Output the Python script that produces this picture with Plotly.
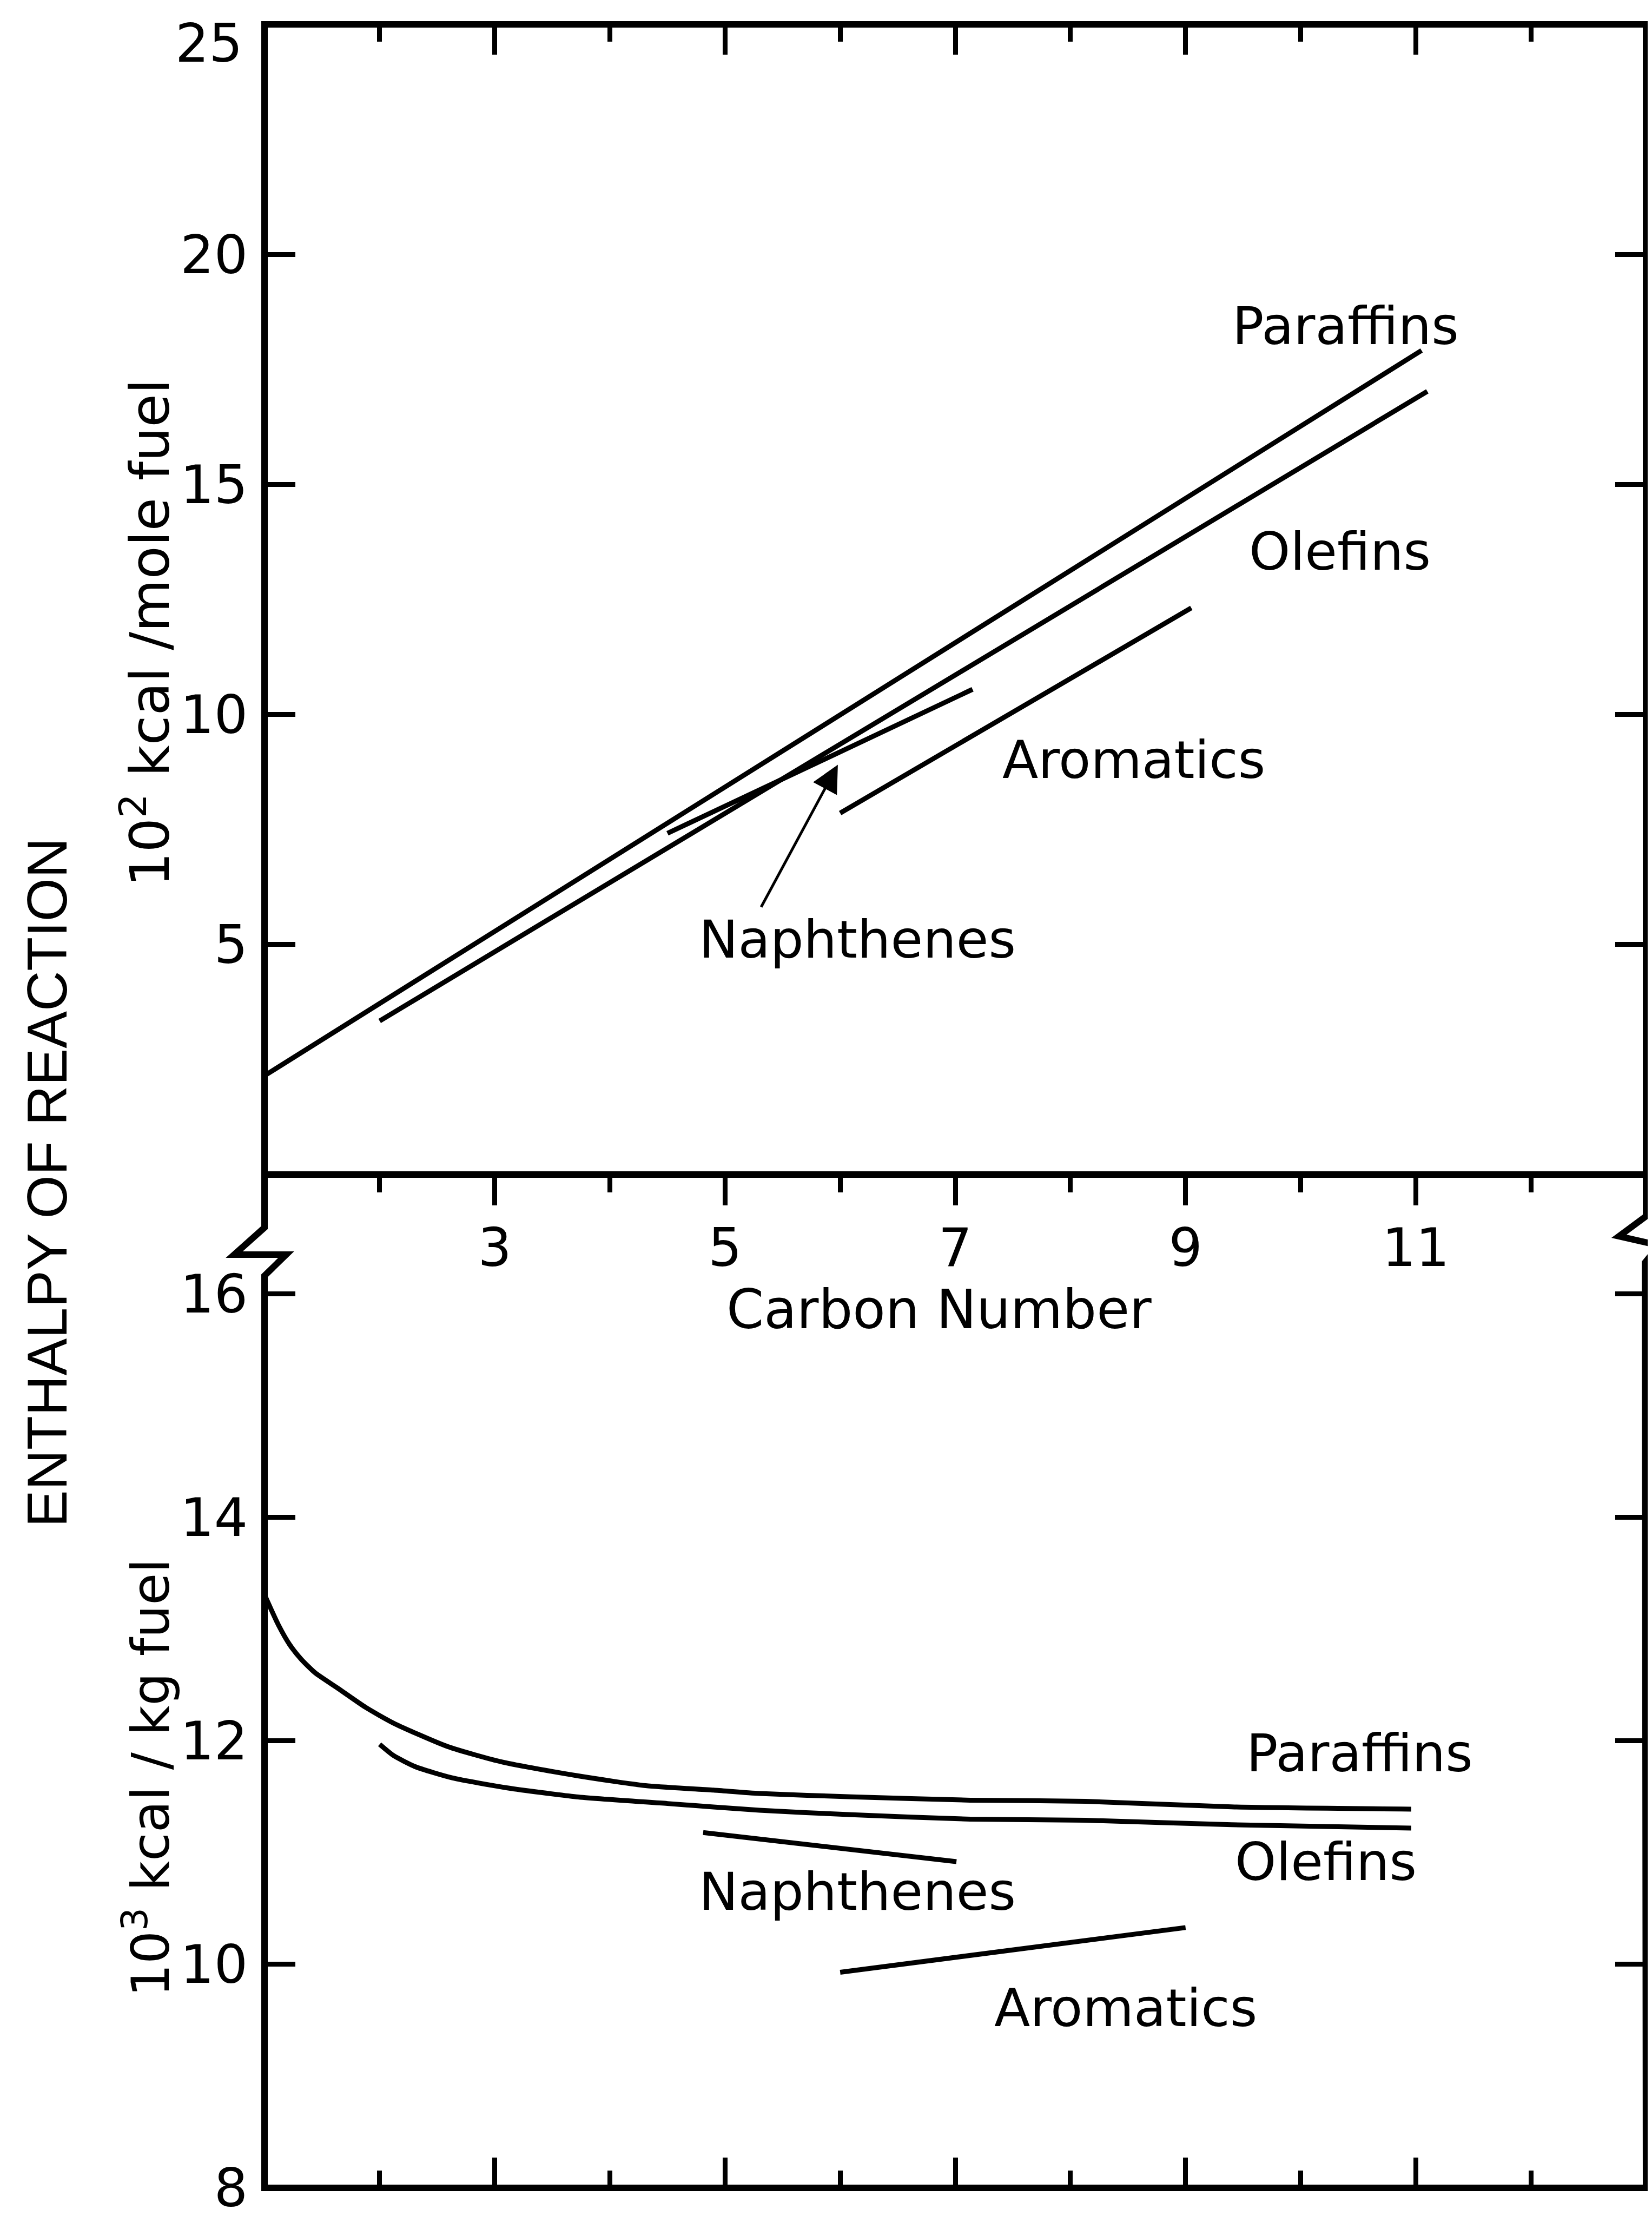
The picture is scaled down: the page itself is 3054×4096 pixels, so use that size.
import plotly.graph_objects as go

# ---------------- data ----------------
carbon_major = [3, 5, 7, 9, 11]
carbon_minor = [2, 4, 6, 8, 10, 12]
mole_ticks = [5, 10, 15, 20, 25]
mole_ticktext = ["5", "10", "15", "20", ""]   # "25" drawn separately, just below the corner
mole_top_label = "25"
kg_ticks = [8, 10, 12, 14, 16]

# upper panel: 10^2 kcal / mole fuel
mole_paraffins_x = [1.0, 11.05]
mole_paraffins_y = [2.15, 17.92]
mole_olefins_x = [2.0, 11.1]
mole_olefins_y = [3.34, 17.03]
mole_naphthenes_x = [4.5, 7.15]
mole_naphthenes_y = [7.42, 10.55]
mole_aromatics_x = [6.0, 9.05]
mole_aromatics_y = [7.86, 12.32]
naphthene_arrow_tail = [5.31, 5.80]
naphthene_arrow_tip = [5.98, 8.91]

# lower panel: 10^3 kcal / kg fuel
kg_paraffins_x = [1.0, 1.12, 1.22, 1.32, 1.44, 1.64, 1.88, 2.12, 2.59, 3.07,
                  3.71, 4.31, 4.90, 5.30, 6.10, 7.13, 8.13, 9.40, 10.96]
kg_paraffins_y = [13.31, 13.04, 12.86, 12.73, 12.61, 12.47, 12.30, 12.16, 11.95, 11.81,
                  11.69, 11.60, 11.56, 11.53, 11.50, 11.47, 11.46, 11.41, 11.39]
kg_olefins_x = [2.00, 2.12, 2.31, 2.63, 3.11, 3.71, 4.50, 5.30, 6.10, 7.13, 8.13, 9.40, 10.96]
kg_olefins_y = [11.97, 11.87, 11.77, 11.67, 11.58, 11.50, 11.44, 11.38, 11.34, 11.30, 11.29, 11.25, 11.22]
kg_naphthenes_x = [4.81, 7.01]
kg_naphthenes_y = [11.18, 10.92]
kg_aromatics_x = [6.0, 9.0]
kg_aromatics_y = [9.93, 10.33]

# ---------------- layout geometry (output pixels) ----------------
W_PX, H_PX = 3054, 4096
L, R, T, B = 481, 3035, 37, 4036
DIV = 2163
PW, PH = R - L, B - T
split = (B - DIV) / PH


def px(xp, yp):
    return (xp - L) / PW, (B - yp) / PH


def path_from(points):
    s = ""
    for i, (xp, yp) in enumerate(points):
        xx, yy = px(xp, yp)
        s += ("M" if i == 0 else " L") + f"{xx:.5f},{yy:.5f}"
    return s


LBL = dict(family="DejaVu Sans", size=97, color="black")
TICKF = dict(family="DejaVu Sans", size=98, color="black")
LW = 9
AXW = 12
TW = 9

fig = go.Figure()


def add_line(xs, ys, xa, ya, spline=False):
    fig.add_trace(go.Scatter(
        x=xs, y=ys, mode="lines", xaxis=xa, yaxis=ya, showlegend=False,
        hoverinfo="skip",
        line=dict(color="black", width=LW,
                  shape="spline" if spline else "linear", smoothing=0.6)))


add_line(mole_paraffins_x, mole_paraffins_y, "x", "y")
add_line(mole_olefins_x, mole_olefins_y, "x", "y")
add_line(mole_naphthenes_x, mole_naphthenes_y, "x", "y")
add_line(mole_aromatics_x, mole_aromatics_y, "x", "y")
add_line(kg_paraffins_x, kg_paraffins_y, "x2", "y2", spline=True)
add_line(kg_olefins_x, kg_olefins_y, "x2", "y2", spline=True)
add_line(kg_naphthenes_x, kg_naphthenes_y, "x2", "y2")
add_line(kg_aromatics_x, kg_aromatics_y, "x2", "y2")
# empty trace so the top-edge tick axis is drawn
fig.add_trace(go.Scatter(x=[], y=[], xaxis="x3", yaxis="y", showlegend=False, hoverinfo="skip"))

common_x = dict(range=[1, 13], showgrid=False, zeroline=False, showline=False,
                tickmode="array", tickvals=carbon_major, tickwidth=TW, tickcolor="black",
                fixedrange=True, automargin=False)

fig.update_layout(
    width=W_PX, height=H_PX,
    margin=dict(l=L, r=W_PX - R, t=T, b=H_PX - B, autoexpand=False),
    paper_bgcolor="white", plot_bgcolor="white",
    showlegend=False,
    xaxis=dict(**common_x, anchor="y", domain=[0, 1], side="bottom",
               ticks="outside", ticklen=56, tickfont=TICKF, ticklabelstandoff=-6,
               minor=dict(tickmode="array", tickvals=carbon_minor, ticks="outside",
                          ticklen=32, tickwidth=TW, tickcolor="black", showgrid=False)),
    xaxis3=dict(**common_x, anchor="y", overlaying="x", side="top",
                ticks="inside", ticklen=56, showticklabels=False,
                minor=dict(tickmode="array", tickvals=carbon_minor, ticks="inside",
                           ticklen=32, tickwidth=TW, tickcolor="black", showgrid=False)),
    xaxis2=dict(**common_x, anchor="y2", domain=[0, 1], side="bottom",
                ticks="inside", ticklen=56, showticklabels=False,
                minor=dict(tickmode="array", tickvals=carbon_minor, ticks="inside",
                           ticklen=32, tickwidth=TW, tickcolor="black", showgrid=False)),
    yaxis=dict(anchor="x", domain=[split, 1], range=[0, 25.01], tickmode="array",
               tickvals=mole_ticks, ticktext=mole_ticktext, ticks="inside", ticklen=57,
               tickwidth=TW, tickcolor="black", mirror="ticks", showline=False,
               showgrid=False, zeroline=False, tickfont=TICKF, ticklabelstandoff=30,
               ticklabeloverflow="allow", fixedrange=True, automargin=False),
    yaxis2=dict(anchor="x2", domain=[0, split], range=[8, 17.07], tickmode="array",
                tickvals=kg_ticks, ticks="inside", ticklen=57, tickwidth=TW,
                tickcolor="black", mirror="ticks", showline=False, showgrid=False,
                zeroline=False, tickfont=TICKF, ticklabelstandoff=30,
                ticklabeloverflow="allow", fixedrange=True, automargin=False),
)

# frame with axis breaks
frame_line = dict(color="black", width=AXW)
left_path = path_from([(R, T), (L, T), (L, DIV + 98), (L - 56, DIV + 148), (L + 40, DIV + 148),
                       (L, DIV + 187), (L, B), (R, B)])
right_path = path_from([(R, T - 6), (R, DIV + 77), (R - 50, DIV + 114), (R + 24, DIV + 131),
                        (R - 2, DIV + 163), (R, B + 6)])
shapes = [
    dict(type="path", xref="paper", yref="paper", path=left_path, line=frame_line, layer="above"),
    dict(type="path", xref="paper", yref="paper", path=right_path, line=frame_line, layer="above"),
    dict(type="line", xref="paper", yref="paper", x0=0, x1=1, y0=split, y1=split,
         line=frame_line, layer="above"),
]
fig.update_layout(shapes=shapes)

ann = []


def label(text, x, y, xref, yref, font=LBL, angle=0, xanchor="center"):
    ann.append(dict(text=text, x=x, y=y, xref=xref, yref=yref, showarrow=False,
                    xanchor=xanchor, yanchor="middle", font=font, textangle=angle))


# top-corner tick label, sitting just below the corner as in the reference
label(mole_top_label, px(L - 38, 0)[0], px(0, 72)[1], "paper", "paper",
      font=TICKF, xanchor="right")

# curve labels
label("Paraffins", 10.39, 18.45, "x", "y")
label("Olefins", 10.34, 13.55, "x", "y")
label("Aromatics", 8.55, 9.02, "x", "y")
label("Naphthenes", 6.15, 5.11, "x", "y")
label("Paraffins", 10.51, 11.89, "x2", "y2")
label("Olefins", 10.22, 10.92, "x2", "y2")
label("Aromatics", 8.48, 9.61, "x2", "y2")
label("Naphthenes", 6.15, 10.65, "x2", "y2")

# x-axis title
label("Carbon Number", 6.86, px(0, 2412)[1], "x", "paper",
      font=dict(family="DejaVu Sans", size=99, color="black"))

# y-axis titles
label("ENTHALPY OF REACTION", px(79, 0)[0], px(0, 2178)[1], "paper", "paper",
      font=dict(family="Liberation Sans", size=103, color="black"), angle=-90)
label("10<sup>2</sup> kcal /mole fuel", px(262, 0)[0], px(0, 1162)[1], "paper", "paper",
      font=dict(family="DejaVu Sans", size=100, color="black"), angle=-90)
label("10<sup>3</sup> kcal / kg fuel", px(264, 0)[0], px(0, 3278)[1], "paper", "paper",
      font=dict(family="DejaVu Sans", size=96, color="black"), angle=-90)

# arrow pointing at the naphthenes line
ann.append(dict(text="", x=naphthene_arrow_tip[0], y=naphthene_arrow_tip[1],
                ax=naphthene_arrow_tail[0], ay=naphthene_arrow_tail[1],
                xref="x", yref="y", axref="x", ayref="y", showarrow=True,
                arrowhead=2, arrowsize=2.0, arrowwidth=5, arrowcolor="black", standoff=0))

fig.update_layout(annotations=ann)

fig.write_html("out.html")
